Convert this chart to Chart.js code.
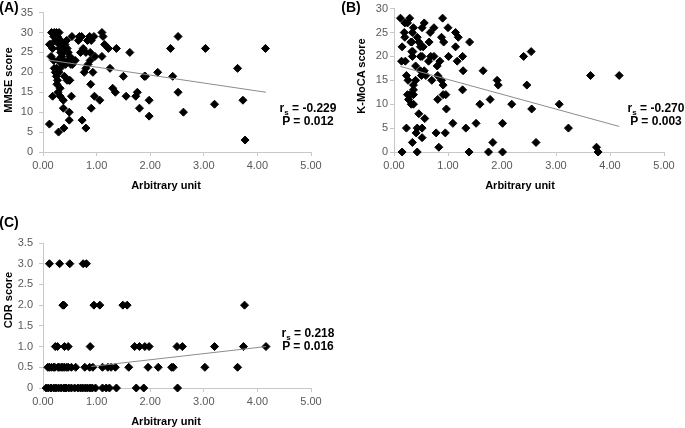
<!DOCTYPE html>
<html>
<head>
<meta charset="utf-8">
<script src="https://cdn.jsdelivr.net/npm/chart.js"></script>
<style>
  body { margin: 0; background: #fff; }
  #wrap { position: relative; width: 685px; height: 428px; overflow: hidden;
          font-family: Arial, "Liberation Sans", sans-serif; }
  canvas { position: absolute; }
  .lbl { position: absolute; white-space: nowrap; color: #000; font-weight: bold; }
  .lbl .s { font-size: 8px; position: relative; top: 3px; line-height: 0; }
</style>
</head>
<body>
<div id="wrap">
  <canvas id="chartA" width="330" height="205" style="left:0;top:0"></canvas>
  <canvas id="chartB" width="345" height="205" style="left:340px;top:0"></canvas>
  <canvas id="chartC" width="330" height="213" style="left:0;top:215px"></canvas>
</div>
<script>
// (A) MMSE
const xA = [0.12,0.14,0.15,0.18,0.16,0.21,0.25,0.20,0.23,0.27,
  0.30,0.28,0.33,0.30,0.35,0.31,0.33,0.38,0.35,0.37,
  0.41,0.44,0.45,0.47,0.50,0.48,0.42,0.28,0.20,0.25,
  0.21,0.23,0.25,0.27,0.30,0.32,0.36,0.40,0.45,0.50,
  0.39,0.54,0.55,0.60,0.52,0.66,0.68,0.72,0.70,0.75,
  0.80,0.83,0.87,0.90,0.95,0.88,0.97,0.84,0.88,0.80,
  0.77,0.93,0.89,0.96,0.90,1.06,1.10,1.12,1.15,1.22,
  1.10,1.25,1.37,1.30,1.35,1.50,1.55,1.62,1.73,1.76,
  1.80,1.89,1.91,1.98,1.98,2.14,2.38,2.42,2.52,2.52,
  2.62,3.03,3.20,3.63,3.73,3.77,4.15,
  0.12,0.18,0.28,0.32,0.32,0.38,0.38,0.49,0.49,0.29,0.39,0.53,0.73,0.80,0.49,0.26,0.57];
const yA = [27,27,24,26,30,30,30,29,28,29,
  30,28,28,27,26,26,25,25,24,27,
  27,28,26,25,24,23,22,23,23,21,
  21,20,19,18,20,21,22,19,18,18,
  23,29,22,23,22,28,29,29,25,26,
  25,28,29,28,29,25,24,22,23,21,
  20,20,17,14,11,13,30,29,27,26,
  24,21,26,16,15,19,14,25,14,15,
  11,19,19,13,9,20,26,19,29,15,
  10,26,12,21,13,3,26,
  7,14,15,16,14,13,11,10,8,5,6,14,8,6,18,17,23];
const trendAx = [0.10, 4.16];
const trendAy = [23.1, 15.0];

// (B) K-MoCA
const xB = [0.12,0.29,0.90, 0.20,0.25,0.56, 0.36,0.52,0.74,1.00, 0.19,0.34,0.67,1.14,
  0.20,0.43,0.88,1.19, 0.31,0.33,0.46,0.65,0.92,1.40, 0.15,0.49,0.54,1.14, 0.33,0.35,2.54,
  0.34,0.49,0.52,0.68,0.74,1.01,1.27,2.40, 0.14,0.21,0.64,0.85,1.17, 0.40,0.80,
  0.49,0.56,1.28,1.65, 0.23,0.51,0.59,0.81,3.64,4.17, 0.26,0.40,0.70,0.88,1.91,
  0.36,0.91,1.93,2.46, 0.36,1.27, 0.25,0.30,0.36,0.91,0.96, 0.27,0.81,1.78,
  0.32,0.36,1.59,2.18,3.06, 0.97,2.55, 0.46, 0.57, 1.09,1.52,2.01,
  0.23,0.43,0.52,1.33,3.23, 0.41,0.78,0.95, 0.52, 0.34,1.83,2.63, 0.83,3.75,
  0.15,0.43,1.39,1.75,2.01,3.78];
const yB = [28,28,28, 27,27,27, 26,26,26,26, 25,25,25,25,
  24,24,24,24, 23,23,23,23,23,23, 22,22,22,22, 21,21,21,
  20,20,20,20,20,20,20,20, 19,19,19,19,19, 18,18,
  17,17,17,17, 16,16,16,16,16,16, 15,15,15,15,15,
  14,14,14,14, 13,13, 12,12,12,12,12, 11,11,11,
  10,10,10,10,10, 9,9, 8, 7, 6,6,6,
  5,5,5,5,5, 4,4,4, 3, 2,2,2, 1,1,
  0,0,0,0,0,0];
const trendBx = [0.12, 4.17];
const trendBy = [17.9, 5.35];

// (C) CDR
const xC = [0.12,0.31,0.50,0.75,0.81,
  0.37,0.39,0.95,1.06,1.49,1.57,3.76,
  0.23,0.27,0.40,0.47,0.88,1.71,1.80,1.90,1.98,2.50,2.60,3.20,3.74,4.16,
  0.09,0.12,0.16,0.20,0.22,0.28,0.30,0.34,0.37,0.40,0.44,0.47,0.53,0.61,0.78,0.87,0.93,
  1.11,1.21,1.27,1.35,1.60,1.96,2.15,2.40,2.43,3.02,3.63,
  0.06,0.10,0.15,0.20,0.24,0.29,0.34,0.39,0.43,0.48,0.53,0.59,0.65,0.70,0.74,0.79,0.83,
  0.88,0.92,0.98,1.11,1.18,1.24,1.37,1.74,1.88,2.51];
const yC = [3,3,3,3,3,
  2,2,2,2,2,2,2,
  1,1,1,1,1,1,1,1,1,1,1,1,1,1,
  0.5,0.5,0.5,0.5,0.5,0.5,0.5,0.5,0.5,0.5,0.5,0.5,0.5,0.5,0.5,0.5,0.5,
  0.5,0.5,0.5,0.5,0.5,0.5,0.5,0.5,0.5,0.5,0.5,
  0,0,0,0,0,0,0,0,0,0,0,0,0,0,0,0,0,
  0,0,0,0,0,0,0,0,0,0,0];
const trendCx = [0.90, 4.16];
const trendCy = [0.52, 1.0];

const axisColor = '#c8c8c8';
const tickColor = '#595959';

function pairs(xs, ys) {
  return xs.map((x, i) => ({ x: x, y: ys[i] }));
}

// un graphique par panneau
function makeChart(id, xs, ys, tx, ty, yMax, yStep, box) {
  const ctx = document.getElementById(id).getContext('2d');
  return new Chart(ctx, {
    type: 'scatter',
    data: {
      datasets: [
        {
          data: pairs(tx, ty),
          showLine: true,
          borderColor: '#8c8c8c',
          borderWidth: 1,
          pointRadius: 0,
          fill: false,
          clip: false
        },
        {
          data: pairs(xs, ys),
          pointStyle: 'rectRot',
          pointRadius: 4,
          backgroundColor: '#000',
          borderColor: '#000',
          borderWidth: 1,
          clip: false
        }
      ]
    },
    options: {
      responsive: false,
      animation: false,
      events: [],
      layout: { padding: { top: box.top, right: box.right, left: 0, bottom: 0 } },
      plugins: { legend: { display: false }, tooltip: { enabled: false } },
      scales: {
        x: {
          type: 'linear', min: 0, max: 5,
          afterFit: (s) => { s.height = box.xh; },
          grid: { drawOnChartArea: false, tickLength: 4, color: axisColor },
          border: { color: axisColor },
          ticks: {
            stepSize: 1, maxRotation: 0, padding: 3, color: tickColor,
            font: { family: 'Arial, "Liberation Sans"', size: 11 },
            callback: (v) => v.toFixed(2)
          }
        },
        y: {
          min: 0, max: yMax,
          afterFit: (s) => { s.width = box.yw; },
          grid: { drawOnChartArea: false, tickLength: 4, color: axisColor },
          border: { color: axisColor },
          ticks: {
            stepSize: yStep, padding: box.ypad, color: tickColor,
            font: { family: 'Arial, "Liberation Sans"', size: 11 }
          }
        }
      }
    }
  });
}

makeChart('chartA', xA, yA, trendAx, trendAy, 35, 5, { top: 7, right: 19, xh: 53, yw: 43, ypad: 6 });
makeChart('chartB', xB, yB, trendBx, trendBy, 30, 5, { top: 7, right: 21, xh: 53, yw: 54, ypad: 2 });
makeChart('chartC', xC, yC, trendCx, trendCy, 3.5, 0.5, { top: 28, right: 19, xh: 40, yw: 43, ypad: 6 });

// textes : lettres des panneaux, titres des axes, statistiques
const wrap = document.getElementById('wrap');
function addText(html, cx, cy, size, rotate, lh) {
  const d = document.createElement('div');
  d.className = 'lbl';
  d.innerHTML = html;
  d.style.left = cx + 'px';
  d.style.top = cy + 'px';
  d.style.fontSize = size + 'px';
  d.style.textAlign = 'center';
  if (lh) d.style.lineHeight = lh + 'px';
  d.style.transform = 'translate(-50%,-50%)' + (rotate ? ' rotate(-90deg)' : '');
  wrap.appendChild(d);
}

addText('(A)', 9, 7, 14);
addText('(B)', 351, 7, 14);
addText('(C)', 9, 222, 14);

addText('MMSE score', 8, 80, 11, true);
addText('K-MoCA score', 361, 76, 11, true);
addText('CDR score', 8, 300, 11, true);

addText('Arbitrary unit', 166, 185, 11);
addText('Arbitrary unit', 520, 185, 11);
addText('Arbitrary unit', 166, 421, 11);

addText('r<span class="s">s</span> = -0.229<br>P = 0.012', 308, 114.5, 12, false, 13);
addText('r<span class="s">s</span> = -0.270<br>P = 0.003', 656, 114.5, 12, false, 13);
addText('r<span class="s">s</span> = 0.218<br>P = 0.016', 308, 339.5, 12, false, 13);
</script>
</body>
</html>
